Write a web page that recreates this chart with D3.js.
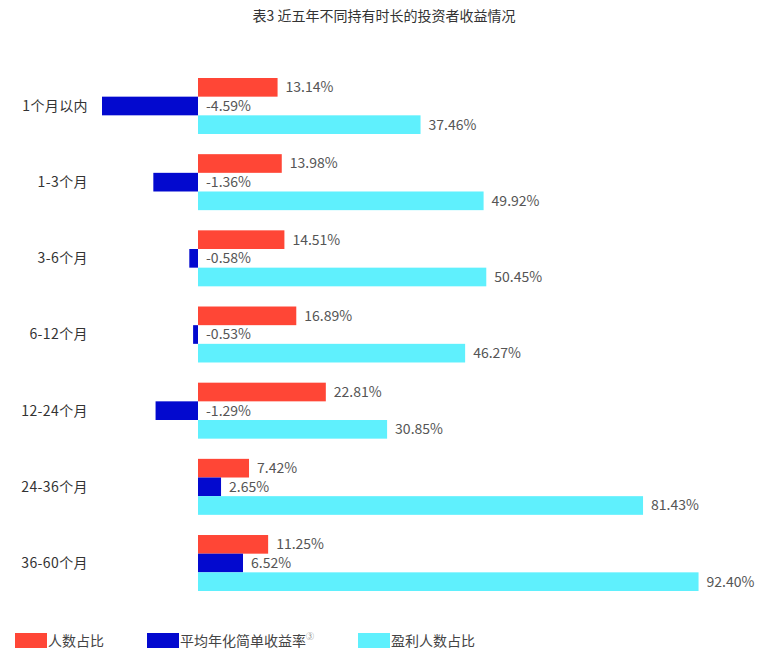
<!DOCTYPE html>
<html><head><meta charset="utf-8">
<script src="https://cdn.jsdelivr.net/npm/d3@7"></script>
<style>
body{margin:0;background:#fff;}
text{font-family:"Noto Sans CJK SC","Noto Sans",sans-serif;}
</style></head>
<body><svg id="c" width="765" height="655"></svg>
<script>
const title = "表3 近五年不同持有时长的投资者收益情况";
const categories = ["1个月以内","1-3个月","3-6个月","6-12个月","12-24个月","24-36个月","36-60个月"];
const seriesNames = ["人数占比","平均年化简单收益率","盈利人数占比"];
const peopleShare = [13.14, 13.98, 14.51, 16.89, 22.81, 7.42, 11.25];
const annualReturn = [-4.59, -1.36, -0.58, -0.53, -1.29, 2.65, 6.52];
const profitShare = [37.46, 49.92, 50.45, 46.27, 30.85, 81.43, 92.40];
const colors = ["#ff4636", "#0309cf", "#5ff0fd"];

const svg = d3.select("#c");
const x0 = 198;

// per-series scales, fitted to the bar lengths drawn in the reference
const xCyan = d3.scaleLinear().domain([0, 100]).range([x0 + 33, x0 + 33 + 506]);
const xRed = d3.scaleLinear().domain([0, 100]).range([x0 + 14, x0 + 14 + 499]);
const xBlueNeg = d3.scaleLog().domain([0.472, 4.59]).range([x0, x0 - 96]).clamp(true);
const xBluePos = d3.scaleLinear().domain([0, 6.52]).range([x0 + 8, x0 + 45]);
function blueEnd(v){ return v < 0 ? xBlueNeg(-v) : xBluePos(v); }

const y = d3.scaleBand().domain(categories).range([78, 591]).paddingInner(0.265).paddingOuter(0);
const ys = d3.scaleBand().domain(seriesNames).range([0, y.bandwidth()]);

svg.append("text").attr("x", 384).attr("y", 21).attr("text-anchor", "middle")
  .attr("font-size", 14).attr("fill", "#333").text(title);

const rows = categories.map((c, i) => ({c, vals: [peopleShare[i], annualReturn[i], profitShare[i]]}));

const g = svg.selectAll("g.row").data(rows).enter().append("g").attr("class", "row")
  .attr("transform", d => `translate(0,${y(d.c)})`);

g.append("text").attr("x", 88).attr("y", y.bandwidth() / 2).attr("dy", "0.35em")
  .attr("text-anchor", "end").attr("font-size", 14).attr("letter-spacing", 0.4)
  .attr("fill", "#333").text(d => d.c);

g.each(function(d){
  const gg = d3.select(this);
  d.vals.forEach((v, k) => {
    let xs, xe;
    if (k === 0) { xs = x0; xe = xRed(v); }
    else if (k === 1) { const e = blueEnd(v); xs = Math.min(x0, e); xe = Math.max(x0, e); }
    else { xs = x0; xe = xCyan(v); }
    gg.append("rect").attr("x", xs).attr("y", ys(seriesNames[k]))
      .attr("width", xe - xs).attr("height", ys.bandwidth()).attr("fill", colors[k]);
    const lx = (v < 0 ? x0 : xe) + 8;
    gg.append("text").attr("x", lx).attr("y", ys(seriesNames[k]) + ys.bandwidth() / 2)
      .attr("dy", "0.35em").attr("font-size", 14).attr("fill", "#555")
      .text(v.toFixed(2) + "%");
  });
});

// legend
const legendX = [15, 147, 358];
const lg = svg.selectAll("g.lg").data(seriesNames).enter().append("g").attr("class", "lg")
  .attr("transform", (d, i) => `translate(${legendX[i]},633)`);
lg.append("rect").attr("width", 32).attr("height", 15).attr("fill", (d, i) => colors[i]);
const lt = lg.append("text").attr("x", 33).attr("y", 13).attr("font-size", 14).attr("fill", "#444").text(d => d);
lt.filter((d, i) => i === 1).append("tspan").attr("font-size", 8).attr("dy", -7).attr("fill", "#888").text("③");
</script></body></html>
